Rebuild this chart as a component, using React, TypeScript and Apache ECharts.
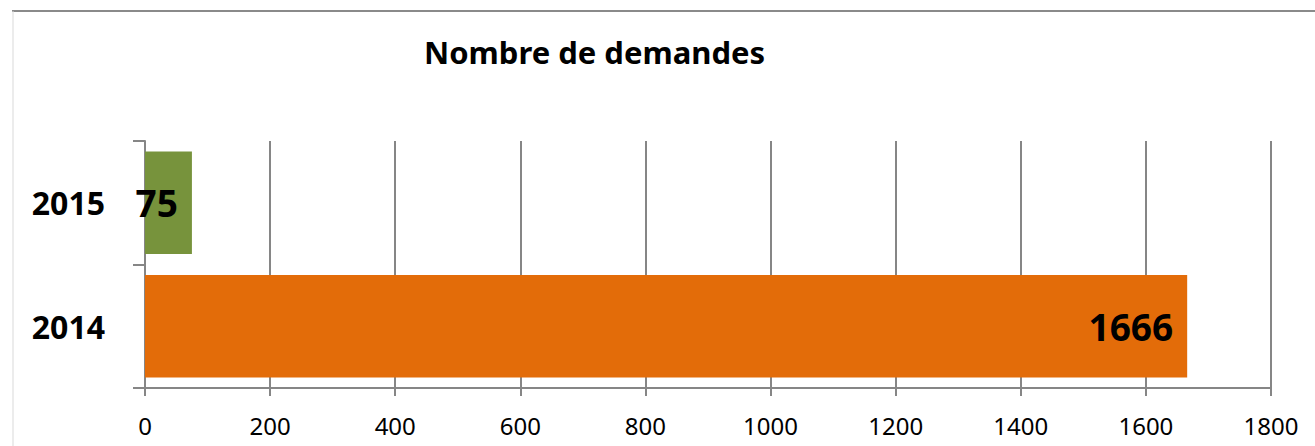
import React, { useEffect, useRef } from "react";
import * as echarts from "echarts";

const categories = ["2014", "2015"];
const values = [1666, 75];
const barColors = ["#E36C09", "#77933C"];
const xTicks = [0, 200, 400, 600, 800, 1000, 1200, 1400, 1600, 1800];
const titleText = "Nombre de demandes";

const FONT = "'Noto Sans', 'Open Sans', sans-serif";

export default function App() {
  const ref = useRef<HTMLDivElement>(null);
  useEffect(() => {
    document.body.style.margin = "0";
    const chart = echarts.init(ref.current!, null, { renderer: "svg" });
    chart.setOption({
      animation: false,
      backgroundColor: "#ffffff",
      textStyle: { fontFamily: FONT },
      graphic: [
        {
          type: "line",
          shape: { x1: 12, y1: 11, x2: 1315, y2: 11 },
          style: { stroke: "#8a8a8a", lineWidth: 2 },
        },
        {
          type: "line",
          shape: { x1: 13, y1: 11, x2: 13, y2: 446 },
          style: { stroke: "#d9d9d9", lineWidth: 1 },
        },
        {
          type: "text",
          left: 424,
          top: 36,
          style: {
            text: titleText,
            font: `bold 31px ${FONT}`,
            fill: "#000",
          },
        },
      ],
      grid: { left: 145, right: 44, top: 141, bottom: 58 },
      xAxis: {
        type: "value",
        min: 0,
        max: 1800,
        interval: 200,
        axisLine: { show: true, lineStyle: { color: "#868686", width: 2 } },
        axisTick: { show: true, length: 8, lineStyle: { color: "#868686", width: 2 } },
        splitLine: { show: true, lineStyle: { color: "#868686", width: 2 } },
        axisLabel: {
          color: "#000",
          fontSize: 24,
          fontFamily: FONT,
          margin: 25,
          formatter: (v: number) => (xTicks.includes(v) ? String(v) : ""),
        },
      },
      yAxis: {
        type: "category",
        data: categories,
        axisLine: { show: true, lineStyle: { color: "#868686", width: 2 } },
        axisTick: { show: true, length: 12, lineStyle: { color: "#868686", width: 2 } },
        axisLabel: {
          color: "#000",
          fontSize: 32,
          fontWeight: "bold",
          fontFamily: FONT,
          margin: 40,
        },
      },
      series: [
        {
          type: "bar",
          data: values.map((v, i) => ({ value: v, itemStyle: { color: barColors[i] } })),
          barCategoryGap: "17%",
          label: {
            show: true,
            position: "insideRight",
            distance: 14,
            color: "#000",
            fontSize: 37,
            fontWeight: "bold",
            fontFamily: FONT,
          },
        },
      ],
    });
    return () => chart.dispose();
  }, []);
  return <div ref={ref} style={{ width: 1315, height: 446 }} />;
}
